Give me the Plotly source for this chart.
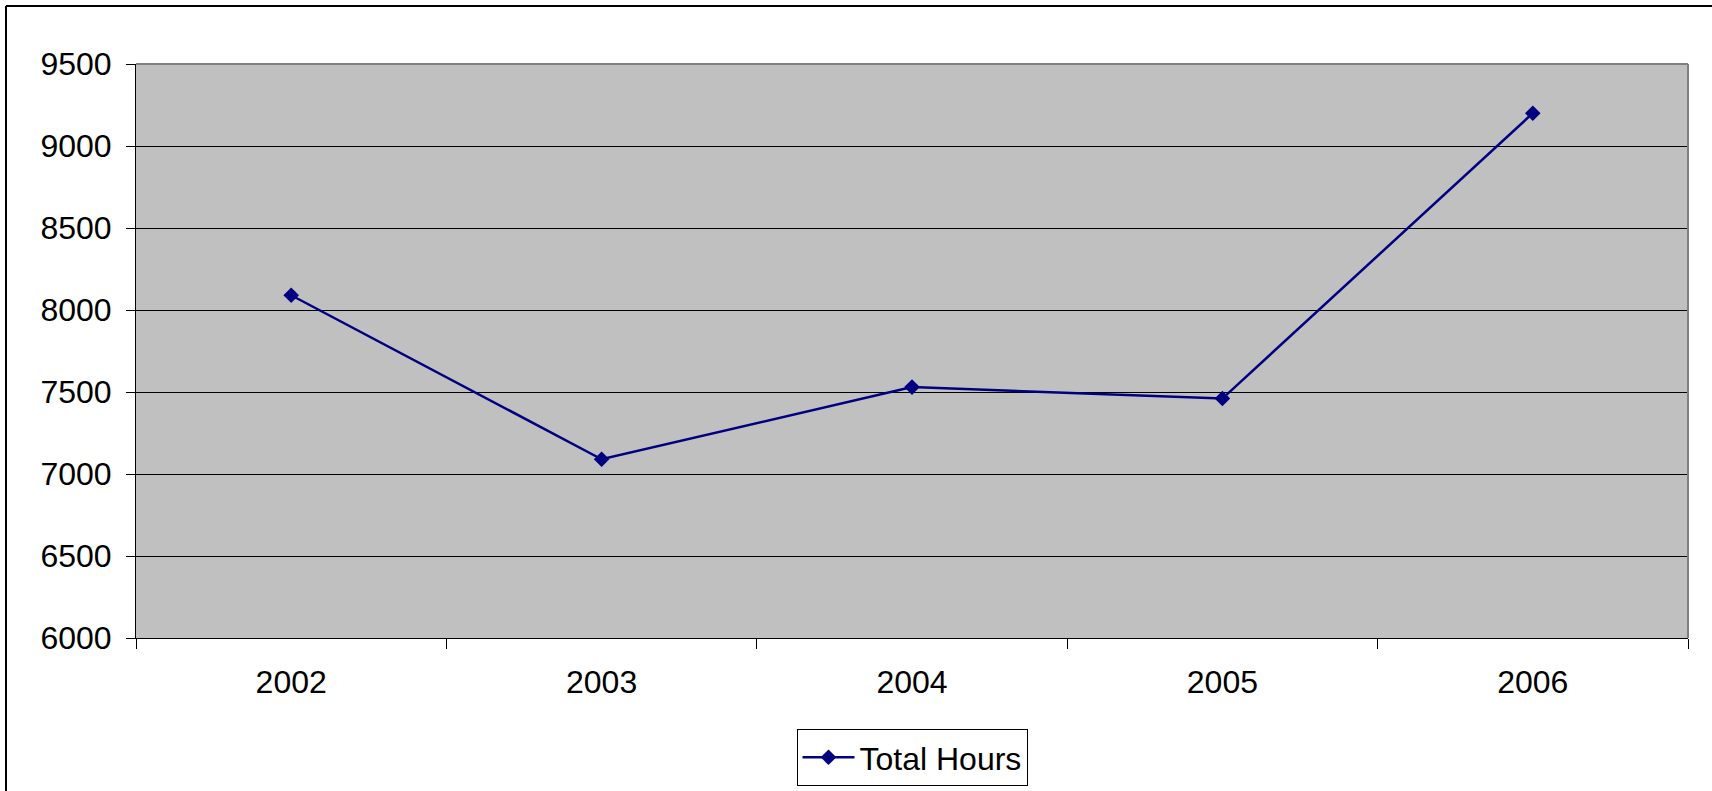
import plotly.graph_objects as go

years = ["2002", "2003", "2004", "2005", "2006"]
total_hours = [8090, 7090, 7530, 7460, 9200]
series_name = "Total Hours"

W, H = 1712, 791
ML, MR, MT, MB = 136, 24, 64, 153
PW = W - ML - MR
PH = H - MT - MB

def px_x(p):
    return (p - ML) / PW

def px_y(p):
    return (H - MB - p) / PH

FONT = "Liberation Sans, Arial, sans-serif"
FS = 32

fig = go.Figure()
fig.add_trace(go.Scatter(
    x=years, y=total_hours, mode="lines+markers", name=series_name,
    line=dict(color="#000080", width=2.5),
    marker=dict(symbol="diamond", size=12, color="#000080"),
))

fig.update_layout(
    width=W, height=H,
    margin=dict(l=ML, r=MR, t=MT, b=MB, autoexpand=False),
    paper_bgcolor="white", plot_bgcolor="#C0C0C0",
    font=dict(family=FONT, size=FS, color="black"),
    showlegend=True,
    legend=dict(
        orientation="h", x=0.5, xanchor="center", y=px_y(729), yanchor="top",
        bordercolor="black", borderwidth=1, bgcolor="white",
        font=dict(family=FONT, size=FS, color="black"),
        itemwidth=52,
    ),
    xaxis=dict(
        type="category", range=[-0.5, 4.5], tickson="boundaries",
        ticks="outside", ticklen=10, tickcolor="black", tickwidth=1,
        showgrid=False, showline=True, linecolor="black", linewidth=1,
        zeroline=False, fixedrange=True,
        tickfont=dict(family=FONT, size=FS, color="black"),
        ticklabelstandoff=16,
    ),
    yaxis=dict(
        range=[6000, 9500], dtick=500, tick0=6000,
        ticks="outside", ticklen=9, tickcolor="black", tickwidth=1,
        showgrid=True, gridcolor="black", gridwidth=1,
        showline=True, linecolor="black", linewidth=1,
        zeroline=False, fixedrange=True,
        tickfont=dict(family=FONT, size=FS, color="black"),
        ticklabelstandoff=8,
    ),
    shapes=[
        # plot area top/right gray border
        dict(type="line", xref="paper", yref="paper", x0=0, x1=1, y0=1, y1=1,
             line=dict(color="#808080", width=2), layer="above"),
        dict(type="line", xref="paper", yref="paper", x0=1, x1=1, y0=0, y1=1,
             line=dict(color="#808080", width=2), layer="above"),
        # outer chart border (top and left visible)
        dict(type="line", xref="paper", yref="paper",
             x0=px_x(6), x1=px_x(1712), y0=px_y(6), y1=px_y(6),
             line=dict(color="black", width=2), layer="above"),
        dict(type="line", xref="paper", yref="paper",
             x0=px_x(6), x1=px_x(6), y0=px_y(6), y1=px_y(791),
             line=dict(color="black", width=2), layer="above"),
    ],
)

fig.write_html("out.html", config={"displayModeBar": False},
               post_script="document.body.style.margin='0';document.body.style.overflow='hidden';")
